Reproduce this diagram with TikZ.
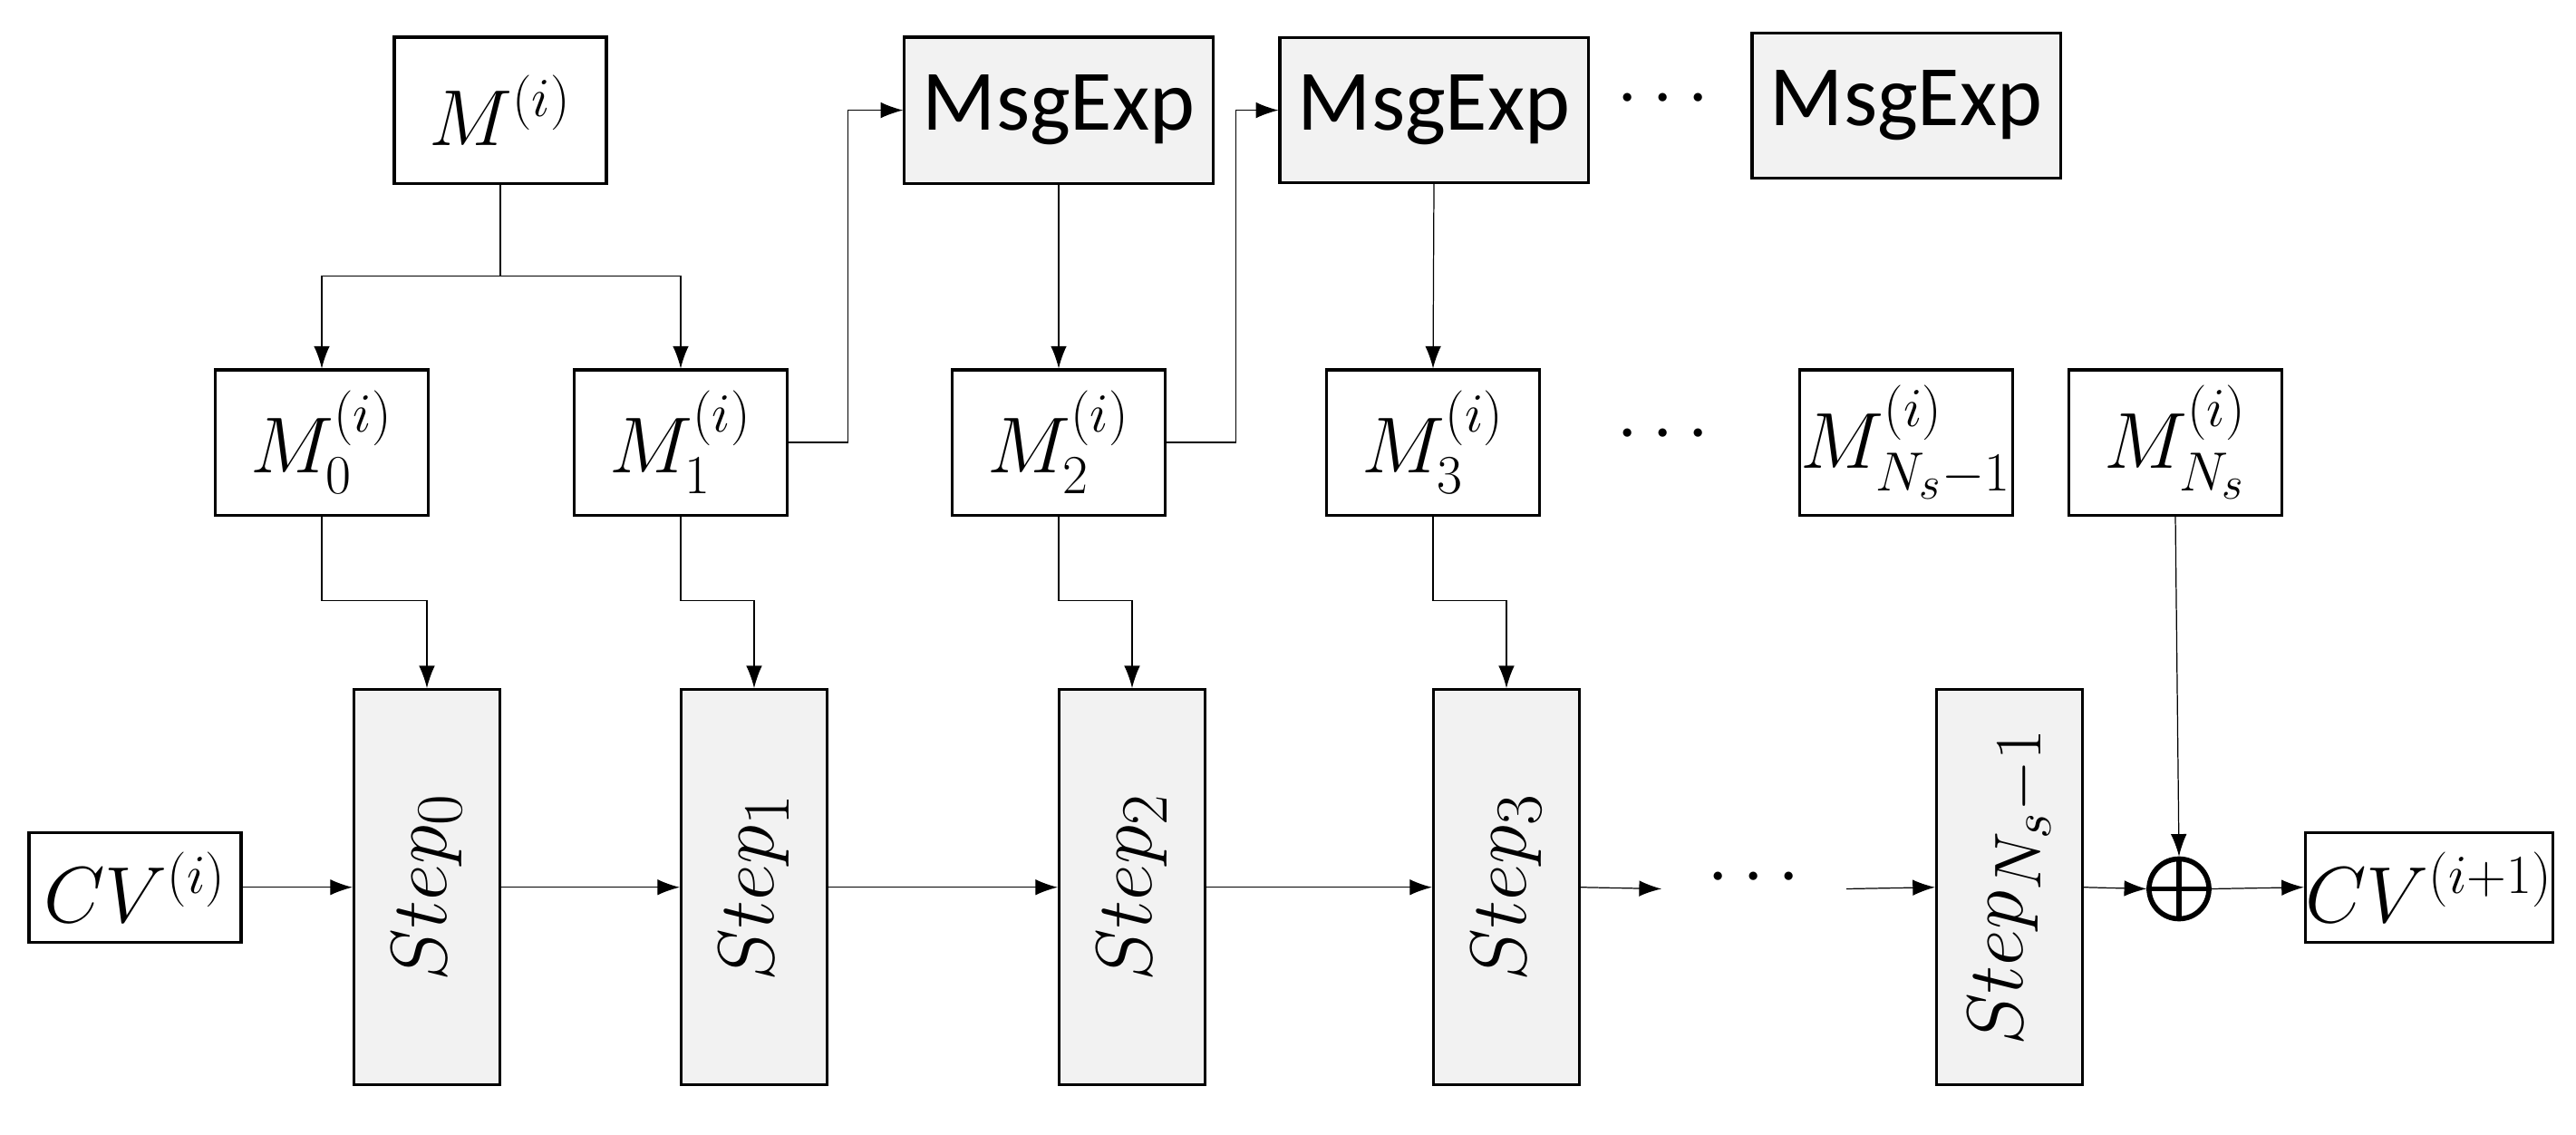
\documentclass[tikz,border=0pt]{standalone}
\usepackage{amsmath}
\usepackage{fontspec}
\setmainfont{Carlito}
\usetikzlibrary{arrows.meta}
\definecolor{boxgray}{HTML}{F2F2F2}
\begin{document}
\begin{tikzpicture}[x=0.01cm,y=-0.0088cm,
  box/.style={draw,line width=0.9pt,inner sep=0pt,font=\fontsize{27}{30}\selectfont},
  exp/.style={box,fill=boxgray},
  stepbox/.style={box,fill=boxgray,minimum width=1.61cm,minimum height=4.36cm,font=\fontsize{32}{36}\selectfont},
  con/.style={line width=0.35pt,-{Latex[length=7pt,width=5pt]}}]
\useasboundingbox (0,0) rectangle (2842,1421);
% message blocks
\node[box,minimum width=2.34cm,minimum height=1.61cm] (m) at (552,138) {$M^{(i)}$};
\node[exp,minimum width=3.40cm,minimum height=1.61cm] (e1) at (1168,138) {MsgExp};
\node[exp,minimum width=3.40cm,minimum height=1.60cm] (e2) at (1582,138) {MsgExp};
\node[exp,minimum width=3.40cm,minimum height=1.60cm] (e3) at (2103,132) {MsgExp};
\node[font=\fontsize{27}{30}\selectfont] (d1) at (1842,125) {$\cdots$};
\foreach \n/\x/\t in {0/355/M_0^{(i)},1/751/M_1^{(i)},2/1168/M_2^{(i)},3/1581/M_3^{(i)},n1/2103/M_{N_s-1}^{(i)},n/2400/M_{N_s}^{(i)}}
  \node[box,minimum width=2.35cm,minimum height=1.60cm] (m\n) at (\x,554) {$\t$};
\node[font=\fontsize{27}{30}\selectfont] (d2) at (1842,545) {$\cdots$};
% steps
\foreach \n/\x/\t in {0/471/0,1/832/1,2/1249/2,3/1662/3,n/2217/{N_s}-1}
  \node[stepbox] (s\n) at (\x,1111) {\rotatebox{90}{$Step_{\t}$}};
\node[box,minimum width=2.34cm,minimum height=1.21cm] (cv) at (149,1111) {$CV^{(i)}$};
\node[box,minimum width=2.57cm,minimum height=1.21cm] (cv2) at (2680,1111) {$CV^{(i+1)}$};
\node[circle,draw,line width=1.6pt,minimum size=0.66cm,inner sep=0pt] (xr) at (2404,1113) {};
\draw[line width=1.6pt] (xr.north) -- (xr.south) (xr.west) -- (xr.east);
\node[font=\fontsize{27}{30}\selectfont] (d3) at (1942,1100) {$\cdots$};
\coordinate (a3) at (1833,1113);
\coordinate (b3) at (2037,1113);
% connectors
\draw[con] (m.south) -- (552,346) -| (m0.north);
\draw[con] (552,346) -| (m1.north);
\draw[con] (m1.east) -- ++(65,0) |- (e1.west);
\draw[con] (m2.east) -- ++(76,0) |- (e2.west);
\draw[con] (e1.south) -- (m2.north);
\draw[con] (e2.south) -- (m3.north);
\draw[con] (m0.south) |- (471,752) -- (s0.north);
\draw[con] (m1.south) |- (832,752) -- (s1.north);
\draw[con] (m2.south) |- (1249,752) -- (s2.north);
\draw[con] (m3.south) |- (1662,752) -- (s3.north);
\draw[con] (mn.south) -- (xr.north);
\draw[con] (cv.east) -- (s0.west);
\draw[con] (s0.east) -- (s1.west);
\draw[con] (s1.east) -- (s2.west);
\draw[con] (s2.east) -- (s3.west);
\draw[con] (s3.east) -- (a3);
\draw[con] (b3) -- (sn.west);
\draw[con] (sn.east) -- (xr.west);
\draw[con] (xr.east) -- (cv2.west);
\end{tikzpicture}
\end{document}
